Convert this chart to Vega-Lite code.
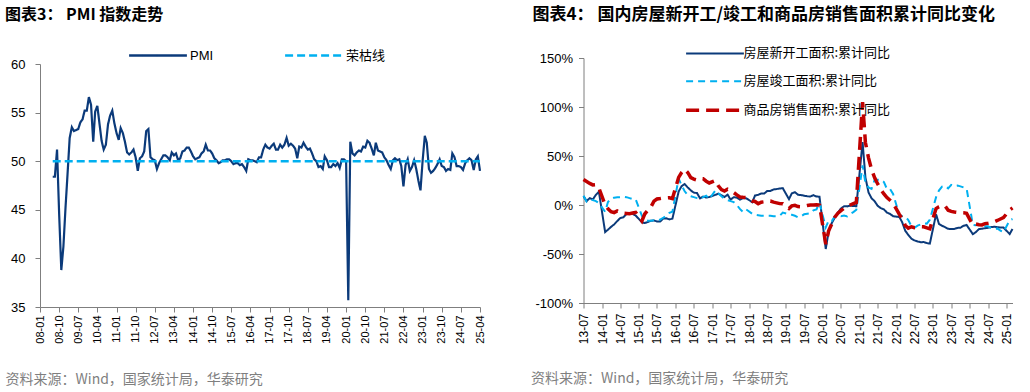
{
  "$schema": "https://vega.github.io/schema/vega-lite/v6.json",
  "background": "white",
  "padding": {"left": 5, "top": 6, "right": 0, "bottom": 0},
  "spacing": 45.5,
  "resolve": {"scale": {"color": "independent", "strokeDash": "independent"}, "legend": {"color": "independent", "strokeDash": "independent"}},
  "config": {
    "view": {"stroke": null},
    "font": "Liberation Sans",
    "axis": {"grid": false, "domainColor": "#7f7f7f", "tickColor": "#7f7f7f", "labelColor": "#000000", "labelFont": "Liberation Sans", "tickSize": 5, "domainWidth": 1, "tickWidth": 1, "labelFlush": false, "labelOverlap": false, "labelBound": false}
  },
  "hconcat": [
    {
      "width": 440,
      "height": 249,
      "title": {"text": "图表3： PMI 指数走势", "anchor": "start", "frame": "group", "dx": -35, "offset": 14.7, "baseline": "middle", "font": "Noto Sans CJK SC", "fontSize": 16, "fontWeight": "bold", "color": "#000000"},
      "encoding": {
        "x": {"field": "d", "type": "temporal",
          "scale": {"type": "utc", "domain": [{"year":2008,"month":1,"date":1,"utc":true},{"year":2025,"month":4,"date":1,"utc":true}]},
          "axis": {"values": [
            {"year":2008,"month":1,"date":1,"utc":true},{"year":2008,"month":10,"date":1,"utc":true},{"year":2009,"month":7,"date":1,"utc":true},{"year":2010,"month":4,"date":1,"utc":true},
            {"year":2011,"month":1,"date":1,"utc":true},{"year":2011,"month":10,"date":1,"utc":true},{"year":2012,"month":7,"date":1,"utc":true},{"year":2013,"month":4,"date":1,"utc":true},
            {"year":2014,"month":1,"date":1,"utc":true},{"year":2014,"month":10,"date":1,"utc":true},{"year":2015,"month":7,"date":1,"utc":true},{"year":2016,"month":4,"date":1,"utc":true},
            {"year":2017,"month":1,"date":1,"utc":true},{"year":2017,"month":10,"date":1,"utc":true},{"year":2018,"month":7,"date":1,"utc":true},{"year":2019,"month":4,"date":1,"utc":true},
            {"year":2020,"month":1,"date":1,"utc":true},{"year":2020,"month":10,"date":1,"utc":true},{"year":2021,"month":7,"date":1,"utc":true},{"year":2022,"month":4,"date":1,"utc":true},
            {"year":2023,"month":1,"date":1,"utc":true},{"year":2023,"month":10,"date":1,"utc":true},{"year":2024,"month":7,"date":1,"utc":true},{"year":2025,"month":4,"date":1,"utc":true}],
            "format": "%y-%m", "labelAngle": 270, "labelFontSize": 11, "labelPadding": 3, "labelOverlap": false, "labelFlush": false, "labelBound": false,
            "title": "资料来源：Wind，国家统计局，华泰研究", "titleX": -35, "titleY": 72, "titleAlign": "left", "titleBaseline": "middle", "titleAnchor": "start", "titleFont": "Noto Sans CJK SC", "titleFontSize": 14, "titleFontWeight": "normal", "titleColor": "#7f7f7f"}},
        "y": {"field": "v", "type": "quantitative", "scale": {"domain": [35, 60], "range": [249, 6]},
          "axis": {"values": [35, 40, 45, 50, 55, 60], "labelFontSize": 13, "labelPadding": 10, "title": null}}
      },
      "layer": [
        {
          "data": {"values": [
            {"d":"2008-07","v":48.4},{"d":"2008-08","v":48.4},{"d":"2008-09","v":51.2},{"d":"2008-10","v":44.6},{"d":"2008-11","v":38.8},{"d":"2008-12","v":41.2},
            {"d":"2009-01","v":45.3},{"d":"2009-02","v":49.0},{"d":"2009-03","v":52.4},{"d":"2009-04","v":53.5},{"d":"2009-05","v":53.1},{"d":"2009-06","v":53.2},{"d":"2009-07","v":53.3},{"d":"2009-08","v":54.0},{"d":"2009-09","v":54.3},{"d":"2009-10","v":55.2},{"d":"2009-11","v":55.2},{"d":"2009-12","v":56.6},
            {"d":"2010-01","v":55.8},{"d":"2010-02","v":52.0},{"d":"2010-03","v":55.1},{"d":"2010-04","v":55.7},{"d":"2010-05","v":53.9},{"d":"2010-06","v":52.1},{"d":"2010-07","v":51.2},{"d":"2010-08","v":51.7},{"d":"2010-09","v":53.8},{"d":"2010-10","v":54.7},{"d":"2010-11","v":55.2},{"d":"2010-12","v":53.9},
            {"d":"2011-01","v":52.9},{"d":"2011-02","v":52.2},{"d":"2011-03","v":53.4},{"d":"2011-04","v":52.9},{"d":"2011-05","v":52.0},{"d":"2011-06","v":50.9},{"d":"2011-07","v":50.7},{"d":"2011-08","v":50.9},{"d":"2011-09","v":51.2},{"d":"2011-10","v":50.4},{"d":"2011-11","v":49.0},{"d":"2011-12","v":50.3},
            {"d":"2012-01","v":50.5},{"d":"2012-02","v":51.0},{"d":"2012-03","v":53.1},{"d":"2012-04","v":53.3},{"d":"2012-05","v":50.4},{"d":"2012-06","v":50.2},{"d":"2012-07","v":50.1},{"d":"2012-08","v":49.2},{"d":"2012-09","v":49.8},{"d":"2012-10","v":50.2},{"d":"2012-11","v":50.6},{"d":"2012-12","v":50.6},
            {"d":"2013-01","v":50.4},{"d":"2013-02","v":50.1},{"d":"2013-03","v":50.9},{"d":"2013-04","v":50.6},{"d":"2013-05","v":50.8},{"d":"2013-06","v":50.1},{"d":"2013-07","v":50.3},{"d":"2013-08","v":51.0},{"d":"2013-09","v":51.1},{"d":"2013-10","v":51.4},{"d":"2013-11","v":51.4},{"d":"2013-12","v":51.0},
            {"d":"2014-01","v":50.5},{"d":"2014-02","v":50.2},{"d":"2014-03","v":50.3},{"d":"2014-04","v":50.4},{"d":"2014-05","v":50.8},{"d":"2014-06","v":51.0},{"d":"2014-07","v":51.7},{"d":"2014-08","v":51.1},{"d":"2014-09","v":51.1},{"d":"2014-10","v":50.8},{"d":"2014-11","v":50.3},{"d":"2014-12","v":50.1},
            {"d":"2015-01","v":49.8},{"d":"2015-02","v":49.9},{"d":"2015-03","v":50.1},{"d":"2015-04","v":50.1},{"d":"2015-05","v":50.2},{"d":"2015-06","v":50.2},{"d":"2015-07","v":50.0},{"d":"2015-08","v":49.7},{"d":"2015-09","v":49.8},{"d":"2015-10","v":49.8},{"d":"2015-11","v":49.6},{"d":"2015-12","v":49.7},
            {"d":"2016-01","v":49.4},{"d":"2016-02","v":49.0},{"d":"2016-03","v":50.2},{"d":"2016-04","v":50.1},{"d":"2016-05","v":50.1},{"d":"2016-06","v":50.0},{"d":"2016-07","v":49.9},{"d":"2016-08","v":50.4},{"d":"2016-09","v":50.4},{"d":"2016-10","v":51.2},{"d":"2016-11","v":51.7},{"d":"2016-12","v":51.4},
            {"d":"2017-01","v":51.3},{"d":"2017-02","v":51.6},{"d":"2017-03","v":51.8},{"d":"2017-04","v":51.2},{"d":"2017-05","v":51.2},{"d":"2017-06","v":51.7},{"d":"2017-07","v":51.4},{"d":"2017-08","v":51.7},{"d":"2017-09","v":52.4},{"d":"2017-10","v":51.6},{"d":"2017-11","v":51.8},{"d":"2017-12","v":51.6},
            {"d":"2018-01","v":51.3},{"d":"2018-02","v":50.3},{"d":"2018-03","v":51.5},{"d":"2018-04","v":51.4},{"d":"2018-05","v":51.9},{"d":"2018-06","v":51.5},{"d":"2018-07","v":51.2},{"d":"2018-08","v":51.3},{"d":"2018-09","v":50.8},{"d":"2018-10","v":50.2},{"d":"2018-11","v":50.0},{"d":"2018-12","v":49.4},
            {"d":"2019-01","v":49.5},{"d":"2019-02","v":49.2},{"d":"2019-03","v":50.5},{"d":"2019-04","v":50.1},{"d":"2019-05","v":49.4},{"d":"2019-06","v":49.4},{"d":"2019-07","v":49.7},{"d":"2019-08","v":49.5},{"d":"2019-09","v":49.8},{"d":"2019-10","v":49.3},{"d":"2019-11","v":50.2},{"d":"2019-12","v":50.2},
            {"d":"2020-01","v":50.0},{"d":"2020-02","v":35.7},{"d":"2020-03","v":52.0},{"d":"2020-04","v":50.8},{"d":"2020-05","v":50.6},{"d":"2020-06","v":50.9},{"d":"2020-07","v":51.1},{"d":"2020-08","v":51.0},{"d":"2020-09","v":51.5},{"d":"2020-10","v":51.4},{"d":"2020-11","v":52.1},{"d":"2020-12","v":51.9},
            {"d":"2021-01","v":51.3},{"d":"2021-02","v":50.6},{"d":"2021-03","v":51.9},{"d":"2021-04","v":51.1},{"d":"2021-05","v":51.0},{"d":"2021-06","v":50.9},{"d":"2021-07","v":50.4},{"d":"2021-08","v":50.1},{"d":"2021-09","v":49.6},{"d":"2021-10","v":49.2},{"d":"2021-11","v":50.1},{"d":"2021-12","v":50.3},
            {"d":"2022-01","v":50.1},{"d":"2022-02","v":50.2},{"d":"2022-03","v":49.5},{"d":"2022-04","v":47.4},{"d":"2022-05","v":49.6},{"d":"2022-06","v":50.2},{"d":"2022-07","v":49.0},{"d":"2022-08","v":49.4},{"d":"2022-09","v":50.1},{"d":"2022-10","v":49.2},{"d":"2022-11","v":48.0},{"d":"2022-12","v":47.0},
            {"d":"2023-01","v":50.1},{"d":"2023-02","v":52.6},{"d":"2023-03","v":51.9},{"d":"2023-04","v":49.2},{"d":"2023-05","v":48.8},{"d":"2023-06","v":49.0},{"d":"2023-07","v":49.3},{"d":"2023-08","v":49.7},{"d":"2023-09","v":50.2},{"d":"2023-10","v":49.5},{"d":"2023-11","v":49.4},{"d":"2023-12","v":49.0},
            {"d":"2024-01","v":49.2},{"d":"2024-02","v":49.1},{"d":"2024-03","v":50.8},{"d":"2024-04","v":50.4},{"d":"2024-05","v":49.5},{"d":"2024-06","v":49.5},{"d":"2024-07","v":49.4},{"d":"2024-08","v":49.1},{"d":"2024-09","v":49.8},{"d":"2024-10","v":50.1},{"d":"2024-11","v":50.3},{"d":"2024-12","v":50.1},
            {"d":"2025-01","v":49.1},{"d":"2025-02","v":50.2},{"d":"2025-03","v":50.5},{"d":"2025-04","v":49.0}
          ], "format": {"parse": {"d": "utc:'%Y-%m'"}}},
          "mark": {"type": "line", "strokeWidth": 2.2},
          "encoding": {
            "color": {"datum": "PMI", "type": "nominal", "scale": {"domain": ["PMI", "荣枯线"], "range": ["#0b3a7a", "#00b0f0"]},
              "legend": {"title": null, "orient": "none", "legendX": 108, "legendY": -12.5, "direction": "horizontal", "symbolType": "M-3.4,0H3.4", "symbolSize": 289, "symbolStrokeWidth": 2.5, "labelOffset": 22, "columnPadding": 66, "labelFont": "Liberation Sans, Noto Sans CJK SC", "labelFontSize": 13, "labelColor": "#000000", "padding": 0}},
            "strokeDash": {"datum": "PMI", "type": "nominal", "scale": {"domain": ["PMI", "荣枯线"], "range": [[1, 0], [8, 4]]},
              "legend": {"title": null, "orient": "none", "legendX": 108, "legendY": -12.5, "direction": "horizontal", "symbolType": "M-3.4,0H3.4", "symbolSize": 289, "symbolStrokeWidth": 2.5, "labelOffset": 22, "columnPadding": 66, "labelFont": "Liberation Sans, Noto Sans CJK SC", "labelFontSize": 13, "labelColor": "#000000", "padding": 0}}
          }
        },
        {
          "data": {"values": [{"d": "2008-07", "v": 50}, {"d": "2025-04", "v": 50}], "format": {"parse": {"d": "utc:'%Y-%m'"}}},
          "mark": {"type": "line", "strokeWidth": 2.5},
          "encoding": {
            "color": {"datum": "荣枯线", "type": "nominal"},
            "strokeDash": {"datum": "荣枯线", "type": "nominal"}
          }
        }
      ]
    },
    {
      "width": 429,
      "height": 245,
      "title": {"text": "图表4： 国内房屋新开工/竣工和商品房销售面积累计同比变化", "anchor": "start", "frame": "group", "dx": -51, "offset": 14.9, "baseline": "middle", "font": "Noto Sans CJK SC", "fontSize": 17, "fontWeight": "bold", "color": "#000000"},
      "data": {"values": [
        {"d":"2013-07","ns":9.0,"cp":9.5,"sa":26},{"d":"2013-08","ns":4.0,"cp":3.5,"sa":24},{"d":"2013-09","ns":7.0,"cp":5.5,"sa":22},{"d":"2013-10","ns":5.6,"cp":5.0,"sa":20.5},{"d":"2013-11","ns":10.4,"cp":4.0,"sa":20.8},{"d":"2013-12","ns":13.5,"cp":2.0,"sa":17.3},
        {"d":"2014-02","ns":-27.6,"cp":-7,"sa":-0.1},{"d":"2014-03","ns":-25.2,"cp":3,"sa":-3.8},{"d":"2014-04","ns":-22.3,"cp":6.5,"sa":-6.8},{"d":"2014-05","ns":-19.8,"cp":7.5,"sa":-7.8},{"d":"2014-06","ns":-16.4,"cp":8,"sa":-6.0},{"d":"2014-07","ns":-13.3,"cp":8,"sa":-7.6},{"d":"2014-08","ns":-12.5,"cp":8.5,"sa":-8.3},{"d":"2014-09","ns":-9.3,"cp":8,"sa":-8.6},{"d":"2014-10","ns":-8.9,"cp":7,"sa":-8.9},{"d":"2014-11","ns":-9.0,"cp":6,"sa":-8.2},{"d":"2014-12","ns":-10.7,"cp":5.9,"sa":-7.6},
        {"d":"2015-02","ns":-17.7,"cp":-11,"sa":-16.3},{"d":"2015-03","ns":-18.4,"cp":-15,"sa":-9.2},{"d":"2015-04","ns":-17.3,"cp":-16,"sa":-5.4},{"d":"2015-05","ns":-16.1,"cp":-16,"sa":-2.1},{"d":"2015-06","ns":-15.8,"cp":-15.5,"sa":3.9},{"d":"2015-07","ns":-16.8,"cp":-15,"sa":6.1},{"d":"2015-08","ns":-16.8,"cp":-15,"sa":6.6},{"d":"2015-09","ns":-13.9,"cp":-13,"sa":7.2},{"d":"2015-10","ns":-13.6,"cp":-11,"sa":7.2},{"d":"2015-11","ns":-14.7,"cp":-8,"sa":7.4},{"d":"2015-12","ns":-14.0,"cp":-6.9,"sa":6.5},
        {"d":"2016-02","ns":13.7,"cp":27,"sa":28.2},{"d":"2016-03","ns":19.2,"cp":20,"sa":33.1},{"d":"2016-04","ns":21.4,"cp":14,"sa":36.5},{"d":"2016-05","ns":18.0,"cp":10,"sa":33.2},{"d":"2016-06","ns":14.9,"cp":9,"sa":27.9},{"d":"2016-07","ns":12.6,"cp":8,"sa":26.4},{"d":"2016-08","ns":12.2,"cp":7,"sa":25.5},{"d":"2016-09","ns":6.7,"cp":6.2,"sa":26.9},{"d":"2016-10","ns":8.6,"cp":8,"sa":26.8},{"d":"2016-11","ns":7.6,"cp":9.5,"sa":24.3},{"d":"2016-12","ns":8.1,"cp":6.1,"sa":22.5},
        {"d":"2017-02","ns":10.4,"cp":15,"sa":25.1},{"d":"2017-03","ns":11.6,"cp":12,"sa":19.5},{"d":"2017-04","ns":9.9,"cp":9,"sa":15.7},{"d":"2017-05","ns":8.1,"cp":6.5,"sa":14.3},{"d":"2017-06","ns":10.6,"cp":5,"sa":16.1},{"d":"2017-07","ns":5.5,"cp":4,"sa":15.0},{"d":"2017-08","ns":7.9,"cp":3,"sa":12.7},{"d":"2017-09","ns":7.6,"cp":0,"sa":10.3},{"d":"2017-10","ns":5.5,"cp":-4,"sa":8.2},{"d":"2017-11","ns":6.9,"cp":-7,"sa":7.9},{"d":"2017-12","ns":7.0,"cp":-4.4,"sa":7.7},
        {"d":"2018-02","ns":2.9,"cp":-9,"sa":4.1},{"d":"2018-03","ns":9.7,"cp":-10,"sa":3.6},{"d":"2018-04","ns":10.3,"cp":-10.5,"sa":1.3},{"d":"2018-05","ns":11.8,"cp":-11,"sa":2.9},{"d":"2018-06","ns":11.8,"cp":-11,"sa":3.3},{"d":"2018-07","ns":14.4,"cp":-11,"sa":4.2},{"d":"2018-08","ns":14.4,"cp":-11,"sa":4.0},{"d":"2018-09","ns":15.9,"cp":-11.5,"sa":2.9},{"d":"2018-10","ns":16.3,"cp":-11.5,"sa":2.2},{"d":"2018-11","ns":16.8,"cp":-11,"sa":1.4},{"d":"2018-12","ns":17.2,"cp":-7.8,"sa":1.3},
        {"d":"2019-02","ns":6.0,"cp":-9.5,"sa":-3.6},{"d":"2019-03","ns":11.9,"cp":-10,"sa":-0.9},{"d":"2019-04","ns":13.1,"cp":-11,"sa":-0.3},{"d":"2019-05","ns":10.5,"cp":-12.5,"sa":-1.6},{"d":"2019-06","ns":10.1,"cp":-11.5,"sa":-1.8},{"d":"2019-07","ns":9.5,"cp":-9.5,"sa":-1.3},{"d":"2019-08","ns":8.9,"cp":-9,"sa":-0.6},{"d":"2019-09","ns":8.6,"cp":-8.5,"sa":-0.1},{"d":"2019-10","ns":10.0,"cp":-5.5,"sa":0.1},{"d":"2019-11","ns":8.6,"cp":-4.5,"sa":0.2},{"d":"2019-12","ns":8.5,"cp":2.6,"sa":-0.1},
        {"d":"2020-02","ns":-44.9,"cp":-22.9,"sa":-39.9},{"d":"2020-03","ns":-27.2,"cp":-15.8,"sa":-26.3},{"d":"2020-04","ns":-18.4,"cp":-16.4,"sa":-19.3},{"d":"2020-05","ns":-12.8,"cp":-11.6,"sa":-12.3},{"d":"2020-06","ns":-7.6,"cp":-10.5,"sa":-8.4},{"d":"2020-07","ns":-3.6,"cp":-11.4,"sa":-5.8},{"d":"2020-08","ns":-1.3,"cp":-10.8,"sa":-3.3},{"d":"2020-09","ns":-1.4,"cp":-11.6,"sa":-1.8},{"d":"2020-10","ns":-0.7,"cp":-9.2,"sa":0.0},{"d":"2020-11","ns":-1.0,"cp":-7.3,"sa":1.3},{"d":"2020-12","ns":-1.2,"cp":-4.9,"sa":2.6},
        {"d":"2021-02","ns":64.3,"cp":40.4,"sa":104.9},{"d":"2021-03","ns":28.2,"cp":22.9,"sa":63.8},{"d":"2021-04","ns":12.8,"cp":17.9,"sa":48.1},{"d":"2021-05","ns":6.9,"cp":16.4,"sa":36.3},{"d":"2021-06","ns":3.8,"cp":25.7,"sa":27.7},{"d":"2021-07","ns":-0.9,"cp":25.7,"sa":21.5},{"d":"2021-08","ns":-3.2,"cp":26.0,"sa":15.9},{"d":"2021-09","ns":-4.5,"cp":23.4,"sa":11.3},{"d":"2021-10","ns":-7.7,"cp":16.3,"sa":7.6},{"d":"2021-11","ns":-9.1,"cp":16.2,"sa":4.8},{"d":"2021-12","ns":-11.4,"cp":11.2,"sa":1.9},
        {"d":"2022-02","ns":-12.2,"cp":-9.9,"sa":-9.6},{"d":"2022-03","ns":-17.5,"cp":-11.5,"sa":-13.8},{"d":"2022-04","ns":-26.3,"cp":-11.9,"sa":-20.9},{"d":"2022-05","ns":-30.6,"cp":-15.3,"sa":-23.6},{"d":"2022-06","ns":-34.4,"cp":-21.5,"sa":-22.2},{"d":"2022-07","ns":-36.1,"cp":-23.3,"sa":-23.1},{"d":"2022-08","ns":-37.2,"cp":-21.1,"sa":-23.0},{"d":"2022-09","ns":-38.0,"cp":-19.9,"sa":-22.2},{"d":"2022-10","ns":-37.8,"cp":-18.7,"sa":-22.3},{"d":"2022-11","ns":-38.9,"cp":-19.0,"sa":-23.3},{"d":"2022-12","ns":-39.4,"cp":-15.0,"sa":-24.3},
        {"d":"2023-02","ns":-9.4,"cp":8.0,"sa":-3.6},{"d":"2023-03","ns":-19.2,"cp":14.7,"sa":-1.8},{"d":"2023-04","ns":-21.2,"cp":18.8,"sa":-0.4},{"d":"2023-05","ns":-22.6,"cp":19.6,"sa":-0.9},{"d":"2023-06","ns":-24.3,"cp":17.0,"sa":-5.3},{"d":"2023-07","ns":-24.5,"cp":20.5,"sa":-6.5},{"d":"2023-08","ns":-24.4,"cp":19.2,"sa":-7.1},{"d":"2023-09","ns":-23.4,"cp":19.8,"sa":-7.5},{"d":"2023-10","ns":-23.2,"cp":19.0,"sa":-7.8},{"d":"2023-11","ns":-21.2,"cp":17.9,"sa":-8.0},{"d":"2023-12","ns":-20.4,"cp":17.0,"sa":-8.5},
        {"d":"2024-02","ns":-29.7,"cp":-20.2,"sa":-20.5},{"d":"2024-03","ns":-27.8,"cp":-20.7,"sa":-19.4},{"d":"2024-04","ns":-24.6,"cp":-20.4,"sa":-20.2},{"d":"2024-05","ns":-24.2,"cp":-19.2,"sa":-20.3},{"d":"2024-06","ns":-23.7,"cp":-21.8,"sa":-19.0},{"d":"2024-07","ns":-23.2,"cp":-21.8,"sa":-18.6},{"d":"2024-08","ns":-22.5,"cp":-23.6,"sa":-18.0},{"d":"2024-09","ns":-22.2,"cp":-24.4,"sa":-17.1},{"d":"2024-10","ns":-22.6,"cp":-23.9,"sa":-15.8},{"d":"2024-11","ns":-23.0,"cp":-26.2,"sa":-14.3},{"d":"2024-12","ns":-23.0,"cp":-27.7,"sa":-12.9},
        {"d":"2025-02","ns":-29.6,"cp":-15.6,"sa":-5.1},{"d":"2025-03","ns":-24.4,"cp":-14.3,"sa":-3.0}
      ], "format": {"parse": {"d": "utc:'%Y-%m'"}}},
      "encoding": {
        "x": {"field": "d", "type": "temporal",
          "scale": {"type": "utc", "domain": [{"year":2013,"month":7,"date":1,"utc":true},{"year":2025,"month":3,"date":1,"utc":true}]},
          "axis": {"values": [
            {"year":2013,"month":7,"date":1,"utc":true},{"year":2014,"month":1,"date":1,"utc":true},{"year":2014,"month":7,"date":1,"utc":true},{"year":2015,"month":1,"date":1,"utc":true},
            {"year":2015,"month":7,"date":1,"utc":true},{"year":2016,"month":1,"date":1,"utc":true},{"year":2016,"month":7,"date":1,"utc":true},{"year":2017,"month":1,"date":1,"utc":true},
            {"year":2017,"month":7,"date":1,"utc":true},{"year":2018,"month":1,"date":1,"utc":true},{"year":2018,"month":7,"date":1,"utc":true},{"year":2019,"month":1,"date":1,"utc":true},
            {"year":2019,"month":7,"date":1,"utc":true},{"year":2020,"month":1,"date":1,"utc":true},{"year":2020,"month":7,"date":1,"utc":true},{"year":2021,"month":1,"date":1,"utc":true},
            {"year":2021,"month":7,"date":1,"utc":true},{"year":2022,"month":1,"date":1,"utc":true},{"year":2022,"month":7,"date":1,"utc":true},{"year":2023,"month":1,"date":1,"utc":true},
            {"year":2023,"month":7,"date":1,"utc":true},{"year":2024,"month":1,"date":1,"utc":true},{"year":2024,"month":7,"date":1,"utc":true},{"year":2025,"month":1,"date":1,"utc":true}],
            "format": "%y-%m", "labelAngle": 270, "labelFontSize": 12, "labelPadding": 5, "labelOverlap": false, "labelFlush": false, "labelBound": false,
            "title": "资料来源：Wind，国家统计局，华泰研究", "titleX": -53, "titleY": 75, "titleAlign": "left", "titleBaseline": "middle", "titleAnchor": "start", "titleFont": "Noto Sans CJK SC", "titleFontSize": 14, "titleFontWeight": "normal", "titleColor": "#7f7f7f"}}
      },
      "layer": [
        {
          "mark": {"type": "line", "strokeWidth": 2},
          "encoding": {
            "y": {"field": "ns", "type": "quantitative", "scale": {"domain": [-100, 150]},
              "axis": {"values": [-100, -50, 0, 50, 100, 150], "labelExpr": "datum.value + '%'", "labelFontSize": 13, "labelPadding": 6, "title": null}},
            "color": {"datum": "房屋新开工面积:累计同比", "type": "nominal",
              "scale": {"domain": ["房屋新开工面积:累计同比", "房屋竣工面积:累计同比", "商品房销售面积:累计同比"], "range": ["#0b3a7a", "#00b0f0", "#c00000"]},
              "legend": {"title": null, "orient": "none", "legendX": 125, "legendY": -11.1, "direction": "vertical", "symbolType": "M-3.4,0H3.4", "symbolSize": 289, "labelOffset": 22, "rowPadding": 13.9, "labelFont": "Noto Sans CJK SC", "labelFontSize": 13, "labelColor": "#000000", "padding": 0,
                "encode": {"symbols": {"update": {"strokeWidth": {"signal": "datum.value === '商品房销售面积:累计同比' ? 3.5 : 2"}}}}}},
            "strokeDash": {"datum": "房屋新开工面积:累计同比", "type": "nominal",
              "scale": {"domain": ["房屋新开工面积:累计同比", "房屋竣工面积:累计同比", "商品房销售面积:累计同比"], "range": [[1, 0], [7, 5], [13, 7]]},
              "legend": {"title": null, "orient": "none", "legendX": 125, "legendY": -11.1, "direction": "vertical", "symbolType": "M-3.4,0H3.4", "symbolSize": 289, "labelOffset": 22, "rowPadding": 13.9, "labelFont": "Noto Sans CJK SC", "labelFontSize": 13, "labelColor": "#000000", "padding": 0,
                "encode": {"symbols": {"update": {"strokeWidth": {"signal": "datum.value === '商品房销售面积:累计同比' ? 3.5 : 2"}}}}}}
          }
        },
        {
          "mark": {"type": "line", "strokeWidth": 2},
          "encoding": {
            "y": {"field": "cp", "type": "quantitative", "scale": {"domain": [-100, 150]},
              "axis": {"values": [-100, -50, 0, 50, 100, 150], "labelExpr": "datum.value + '%'", "labelFontSize": 13, "labelPadding": 6, "title": null}},
            "color": {"datum": "房屋竣工面积:累计同比", "type": "nominal"},
            "strokeDash": {"datum": "房屋竣工面积:累计同比", "type": "nominal"}
          }
        },
        {
          "mark": {"type": "line", "strokeWidth": 3.5},
          "encoding": {
            "y": {"field": "sa", "type": "quantitative", "scale": {"domain": [-100, 150]},
              "axis": {"values": [-100, -50, 0, 50, 100, 150], "labelExpr": "datum.value + '%'", "labelFontSize": 13, "labelPadding": 6, "title": null}},
            "color": {"datum": "商品房销售面积:累计同比", "type": "nominal"},
            "strokeDash": {"datum": "商品房销售面积:累计同比", "type": "nominal"}
          }
        }
      ]
    }
  ]
}
